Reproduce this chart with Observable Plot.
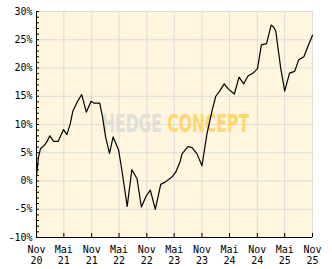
<!DOCTYPE html>
<html><head><meta charset="utf-8">
<script src="https://cdn.jsdelivr.net/npm/d3@7"></script>
<script src="https://cdn.jsdelivr.net/npm/@observablehq/plot@0.6"></script>
<style>body{margin:0;background:#fff}</style>
</head><body><div id="chart"></div>
<script>
const dates = ["2020-11-01","2020-11-14","2020-11-27","2020-12-23","2021-01-10","2021-01-28","2021-02-23","2021-03-24","2021-04-29","2021-05-21","2021-06-12","2021-06-30","2021-07-31","2021-08-27","2021-09-27","2021-10-28","2021-11-15","2021-12-24","2022-01-11","2022-02-01","2022-02-27","2022-03-23","2022-04-28","2022-05-20","2022-06-24","2022-07-25","2022-08-28","2022-09-26","2022-10-27","2022-11-24","2022-12-27","2023-02-01","2023-03-02","2023-04-16","2023-05-12","2023-06-10","2023-06-22","2023-07-31","2023-08-27","2023-09-29","2023-11-01","2023-12-04","2024-01-07","2024-01-31","2024-02-26","2024-03-27","2024-04-23","2024-06-02","2024-07-03","2024-08-03","2024-08-31","2024-10-04","2024-11-02","2024-11-28","2025-01-01","2025-01-31","2025-02-18","2025-03-03","2025-04-04","2025-05-01","2025-06-02","2025-07-06","2025-08-01","2025-09-05","2025-10-06","2025-11-01"];
const values = [0.8,4.2,5.7,6.3,7.0,8.0,7.0,7.0,9.1,8.2,10.1,12.4,14.1,15.3,12.2,14.1,13.8,13.8,11.5,7.8,4.9,7.8,5.5,1.9,-4.5,2.0,0.4,-4.6,-2.7,-1.6,-5.0,-0.6,-0.2,0.7,1.6,3.5,4.8,6.1,5.9,4.8,2.7,8.4,12.5,15.0,15.9,17.2,16.3,15.4,18.4,17.2,18.6,19.1,19.9,24.1,24.3,27.6,27.2,26.5,20.1,15.9,19.1,19.4,21.4,22.0,24.1,25.8];
const xTickDates = ["2020-11-01","2021-05-01","2021-11-01","2022-05-01","2022-11-01","2023-05-01","2023-11-01","2024-05-01","2024-11-01","2025-05-01","2025-11-01"];
const xTickLabels = ["Nov\n20","Mai\n21","Nov\n21","Mai\n22","Nov\n22","Mai\n23","Nov\n23","Mai\n24","Nov\n24","Mai\n25","Nov\n25"];
const yMajorTicks = [-10,-5,0,5,10,15,20,25,30];
const yMinorTicks = [-10,-9,-8,-7,-6,-5,-4,-3,-2,-1,0,1,2,3,4,5,6,7,8,9,10,11,12,13,14,15,16,17,18,19,20,21,22,23,24,25,26,27,28,29,30];
const watermarkWords = ["HEDGE","CONCEPT"];
const watermarkColors = ["#e2dfda","#ffd574"];

const table = dates.map((d, i) => ({date: new Date(d), value: values[i]}));
const xTicks = xTickDates.map(d => new Date(d));
const labelMap = new Map(xTicks.map((d, i) => [+d, xTickLabels[i]]));
const bg = "#fff6dd";
const grid = "#dcdcdc";
const wmText = watermarkWords.join(" ");

const chart = Plot.plot({
  width: 332, height: 269,
  marginLeft: 36, marginRight: 20, marginTop: 11, marginBottom: 32,
  style: {fontFamily: "DejaVu Sans Mono", fontSize: "10px", background: "white", color: "black"},
  x: {type: "utc", domain: [xTicks[0], xTicks[xTicks.length - 1]]},
  y: {domain: [yMajorTicks[0], yMajorTicks[yMajorTicks.length - 1]]},
  marks: [
    Plot.frame({fill: bg, stroke: grid}),
    Plot.gridX({ticks: xTicks, stroke: grid, strokeOpacity: 1}),
    Plot.gridY({ticks: yMajorTicks, stroke: grid, strokeOpacity: 1}),
    Plot.text([wmText], {text: d => d, frameAnchor: "middle", dx: 1, fill: watermarkColors[1], fontSize: 20, fontWeight: "bold", fontFamily: "Liberation Sans Narrow, DejaVu Sans Condensed, sans-serif"}),
    Plot.line(table, {x: "date", y: "value", stroke: "black", strokeWidth: 1.2}),
    Plot.ruleX([xTicks[0]], {stroke: "black"}),
    Plot.ruleY([yMajorTicks[0]], {stroke: "black"}),
    Plot.axisY({ticks: yMajorTicks, tickSize: 0, tickPadding: 4, tickFormat: d => d + "%", label: null}),
    Plot.axisY({ticks: yMinorTicks, tickSize: 3, dx: 3, tickFormat: () => "", label: null}),
    Plot.axisX({ticks: xTicks, tickSize: 0, tickPadding: 8, tickFormat: d => labelMap.get(+d), lineHeight: 1.1, label: null}),
    Plot.axisX({ticks: xTicks, tickSize: 4, dy: -4, tickFormat: () => "", label: null})
  ]
});
document.getElementById("chart").appendChild(chart);
chart.querySelectorAll("text").forEach(t => {
  if (t.textContent === wmText) {
    t.textContent = "";
    watermarkWords.forEach((w, i) => {
      const ts = document.createElementNS("http://www.w3.org/2000/svg", "tspan");
      ts.textContent = i < watermarkWords.length - 1 ? w + " " : w;
      ts.setAttribute("fill", watermarkColors[i]);
      t.appendChild(ts);
    });
    t.setAttribute("textLength", 147);
    t.setAttribute("lengthAdjust", "spacingAndGlyphs");
    const tr = t.getAttribute("transform") || "";
    t.setAttribute("transform", tr + " scale(1,1.2)");
  }
});
</script>
</body></html>
